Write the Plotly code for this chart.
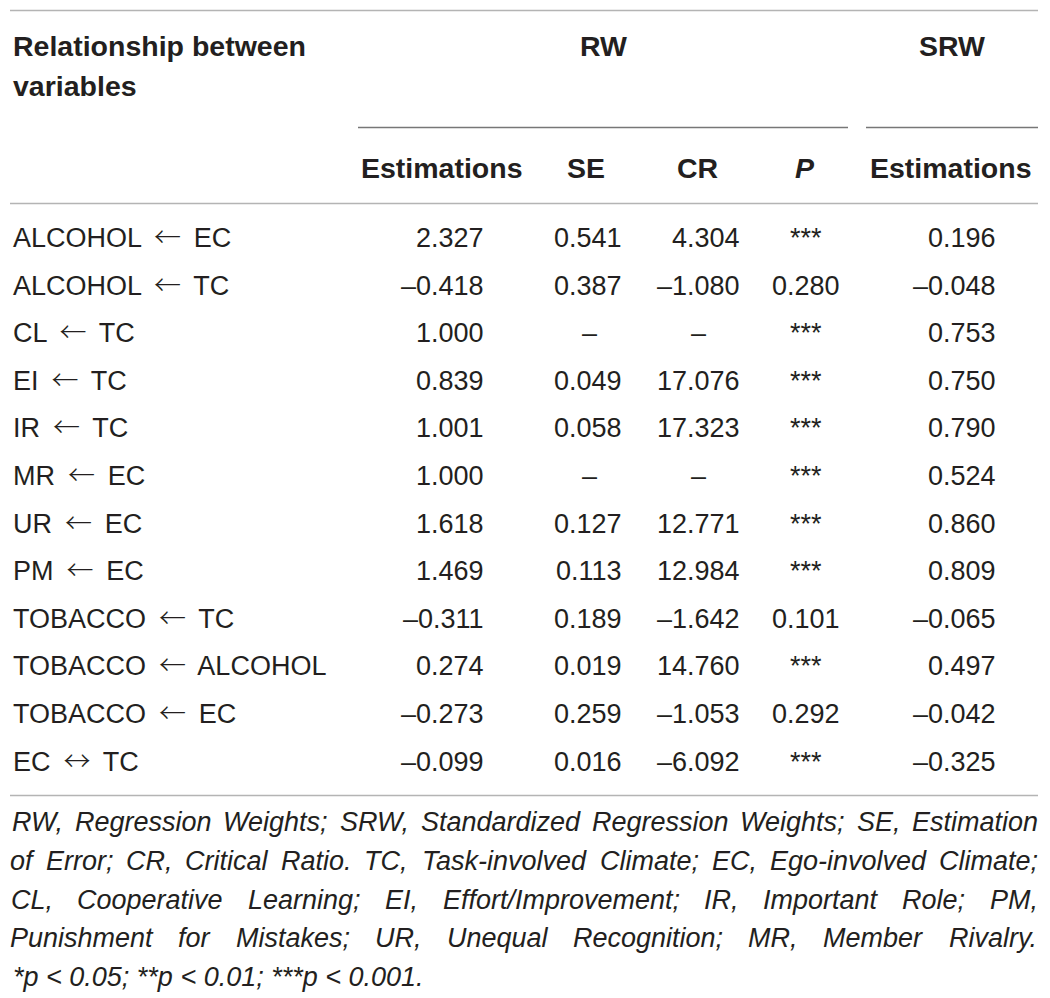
import plotly.graph_objects as go

# ---------------- data ----------------
relationships = [
    ("ALCOHOL", "←", "EC"), ("ALCOHOL", "←", "TC"), ("CL", "←", "TC"),
    ("EI", "←", "TC"), ("IR", "←", "TC"), ("MR", "←", "EC"),
    ("UR", "←", "EC"), ("PM", "←", "EC"), ("TOBACCO", "←", "TC"),
    ("TOBACCO", "←", "ALCOHOL"), ("TOBACCO", "←", "EC"), ("EC", "↔", "TC"),
]
rw_estimations = [2.327, -0.418, 1.000, 0.839, 1.001, 1.000, 1.618, 1.469,
                  -0.311, 0.274, -0.273, -0.099]
rw_se = [0.541, 0.387, None, 0.049, 0.058, None, 0.127, 0.113, 0.189, 0.019,
         0.259, 0.016]
rw_cr = [4.304, -1.080, None, 17.076, 17.323, None, 12.771, 12.984, -1.642,
         14.760, -1.053, -6.092]
rw_p = [None, 0.280, None, None, None, None, None, None, 0.101, None, 0.292,
        None]  # None -> *** (p < 0.001)
srw_estimations = [0.196, -0.048, 0.753, 0.750, 0.790, 0.524, 0.860, 0.809,
                   -0.065, 0.497, -0.042, -0.325]

group_headers = ["RW", "SRW"]
column_headers = ["Estimations", "SE", "CR", "P", "Estimations"]
stub_header = ["Relationship between", "variables"]

footnote_lines = [
    "RW, Regression Weights; SRW, Standardized Regression Weights; SE, Estimation",
    "of Error; CR, Critical Ratio. TC, Task-involved Climate; EC, Ego-involved Climate;",
    "CL, Cooperative Learning; EI, Effort/Improvement; IR, Important Role; PM,",
    "Punishment for Mistakes; UR, Unequal Recognition; MR, Member Rivalry.",
]
footnote_last = "*p &lt; 0.05; **p &lt; 0.01; ***p &lt; 0.001."

# ---------------- layout constants ----------------
W, H = 1050, 998
LEFT, RIGHT = 11, 1038
FONT = "Liberation Sans, Arial, Helvetica, sans-serif"
ARROW_STYLE = "font-family:Noto Sans CJK JP;font-weight:300"
TXT = "#231f20"
FS = 27          # body font size
FS_H = 28.5      # header font size
FS_N = 27        # footnote font size
ROW0, ROWSTEP = 238, 47.6
NOTE0, NOTESTEP = 822, 38.8

col_est = (486, "right")
col_se = (624, "right")
col_cr = (742, "right")
col_p = (806, "center")
col_srw = (998, "right")
dash_x = {"se": 589, "cr": 698}

hdr_centers = [442, 586, 697, 805, 951]
grp_centers = [603, 952]
grp_lines = [(358, 848), (866, RIGHT)]

# Arial / Liberation Sans advance widths (1/1000 em)
AW = {' ': 278, ',': 278, ';': 278, '.': 278, '/': 278, '-': 333, ':': 278,
      '0': 556, '1': 556, '2': 556, '3': 556, '4': 556, '5': 556, '6': 556,
      '7': 556, '8': 556, '9': 556,
      'A': 667, 'B': 667, 'C': 722, 'D': 722, 'E': 667, 'F': 611, 'G': 778,
      'H': 722, 'I': 278, 'J': 500, 'K': 667, 'L': 556, 'M': 833, 'N': 722,
      'O': 778, 'P': 667, 'Q': 778, 'R': 722, 'S': 667, 'T': 611, 'U': 722,
      'V': 667, 'W': 944, 'X': 667, 'Y': 667, 'Z': 611,
      'a': 556, 'b': 556, 'c': 500, 'd': 556, 'e': 556, 'f': 278, 'g': 556,
      'h': 556, 'i': 222, 'j': 222, 'k': 500, 'l': 222, 'm': 833, 'n': 556,
      'o': 556, 'p': 556, 'q': 556, 'r': 333, 's': 500, 't': 278, 'u': 556,
      'v': 500, 'w': 722, 'x': 500, 'y': 500, 'z': 500}


def text_width(s, size):
    return sum(AW.get(c, 556) for c in s) * size / 1000.0


def fmt(v):
    return f"{v:.3f}".replace("-", "–")


annotations = []


def add_text(x, y, text, anchor="left", size=FS, bold=False, italic=False,
             yshift=0):
    t = text
    if italic:
        t = f"<i>{t}</i>"
    if bold:
        t = f"<b>{t}</b>"
    annotations.append(dict(
        x=x, y=y, xref="x", yref="y", text=t, showarrow=False,
        xanchor=anchor, yanchor="middle", yshift=yshift,
        font=dict(family=FONT, size=size, color=TXT),
    ))


# header
add_text(LEFT, 46, stub_header[0], bold=True, size=FS_H)
add_text(LEFT, 86, stub_header[1], bold=True, size=FS_H)
for cx, g in zip(grp_centers, group_headers):
    add_text(cx, 46, g, anchor="center", bold=True, size=FS_H)
for cx, h in zip(hdr_centers, column_headers):
    add_text(cx, 168, h, anchor="center", bold=True, italic=(h == "P"),
             size=FS_H)

# body rows
THIN = "\u2009"
for i, (lhs, arrow, rhs) in enumerate(relationships):
    y = ROW0 + i * ROWSTEP
    rel = (f"{lhs} {THIN}<span style=\"{ARROW_STYLE}\">{arrow}</span>"
           f"{THIN} {rhs}")
    add_text(LEFT, y, rel, yshift=2.5)
    add_text(col_est[0], y, fmt(rw_estimations[i]), anchor=col_est[1])
    if rw_se[i] is None:
        add_text(dash_x["se"], y, "–", anchor="center")
    else:
        add_text(col_se[0], y, fmt(rw_se[i]), anchor=col_se[1])
    if rw_cr[i] is None:
        add_text(dash_x["cr"], y, "–", anchor="center")
    else:
        add_text(col_cr[0], y, fmt(rw_cr[i]), anchor=col_cr[1])
    p_txt = "***" if rw_p[i] is None else fmt(rw_p[i])
    add_text(col_p[0], y, p_txt, anchor=col_p[1])
    add_text(col_srw[0], y, fmt(srw_estimations[i]), anchor=col_srw[1])

# footnote, justified lines
for li, line in enumerate(footnote_lines):
    y = NOTE0 + li * NOTESTEP
    words = line.split(" ")
    widths = [text_width(w, FS_N) for w in words]
    gap = (RIGHT - LEFT - sum(widths)) / (len(words) - 1)
    x = LEFT
    for w, wd in zip(words, widths):
        add_text(x + wd / 2, y, w, anchor="center", size=FS_N, italic=True)
        x += wd + gap
add_text(LEFT, NOTE0 + 4 * NOTESTEP, footnote_last, size=FS_N, italic=True)

# rules
shapes = []


def hline(x0, x1, y, color, width):
    shapes.append(dict(type="line", xref="x", yref="y", x0=x0, x1=x1,
                       y0=y, y1=y, line=dict(color=color, width=width)))


hline(LEFT - 1, RIGHT, 10.5, "#b4b4b4", 1.5)
for a, b in grp_lines:
    hline(a, b, 127.5, "#777777", 1.5)
hline(LEFT - 1, RIGHT, 203.5, "#b4b4b4", 1.5)
hline(LEFT - 1, RIGHT, 795.5, "#b4b4b4", 1.5)

fig = go.Figure()
fig.add_trace(go.Scatter(x=[0, W], y=[0, H], mode="markers",
                         marker=dict(opacity=0), hoverinfo="skip",
                         showlegend=False))
fig.update_layout(
    width=W, height=H,
    margin=dict(l=0, r=0, t=0, b=0),
    paper_bgcolor="white", plot_bgcolor="white",
    xaxis=dict(range=[0, W], visible=False, fixedrange=True),
    yaxis=dict(range=[H, 0], visible=False, fixedrange=True),
    annotations=annotations, shapes=shapes, showlegend=False,
)
fig.write_html(
    "out.html", config={"displayModeBar": False},
    post_script="document.body.style.margin='0px';"
                "document.body.style.overflow='hidden';",
)
